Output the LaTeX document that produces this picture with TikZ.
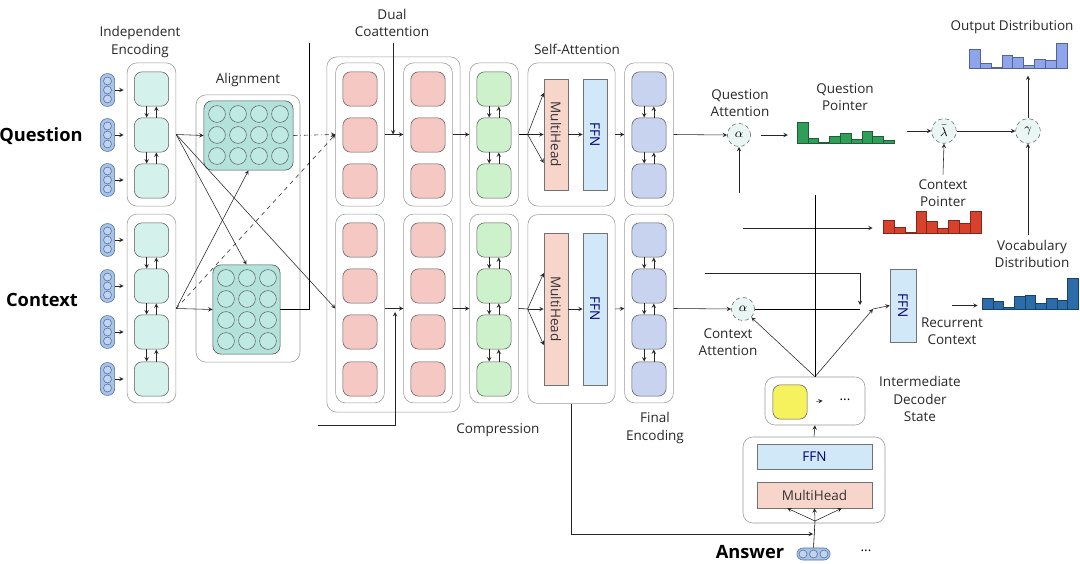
\documentclass[tikz,border=0pt]{standalone}
\usepackage{fontspec}
\setmainfont{Open Sans}
\usepackage{amsmath}
\usetikzlibrary{positioning,arrows.meta,calc}

\definecolor{encfill}{HTML}{D5F1EB}
\definecolor{gridfill}{HTML}{B2E2DA}
\definecolor{dotfill}{HTML}{BFE9E3}
\definecolor{coatfill}{HTML}{F6C8C4}
\definecolor{compfill}{HTML}{CDF2CB}
\definecolor{finfill}{HTML}{C7D3EF}
\definecolor{mhfill}{HTML}{F8D5CB}
\definecolor{ffnfill}{HTML}{D1E8F8}
\definecolor{yelfill}{HTML}{F5F25E}
\definecolor{vecfill}{HTML}{A9C3E7}
\definecolor{vecline}{HTML}{4F6FA5}
\definecolor{attfill}{HTML}{E9F6F4}
\definecolor{qgreen}{HTML}{2F9E58}
\definecolor{cred}{HTML}{D8422D}
\definecolor{vblue}{HTML}{2C6DA9}
\definecolor{oblue}{HTML}{8EA5EC}

\begin{document}
\begin{tikzpicture}[
    x=0.025cm, y=-0.025cm,
    >=stealth,
    font=\fontsize{9.6}{12.2}\selectfont,
    cellbox/.style={
        draw=black!65,
        thin,
        rounded corners=2mm,
        minimum width=0.86cm,
        minimum height=0.86cm,
        inner sep=0pt
    },
    colbox/.style={
        draw=black!40,
        rounded corners=2.5mm,
        minimum width=1.22cm,
        inner sep=0pt
    },
    qcol/.style={colbox, minimum height=3.58cm},
    ccol/.style={colbox, minimum height=4.72cm},
    algbox/.style={
        draw=black!70,
        fill=gridfill,
        rounded corners=2mm,
        inner sep=0pt
    },
    algdot/.style={draw=black!60, thin, fill=dotfill},
    wordvec/.style={
        draw=vecline,
        fill=vecfill,
        rounded corners=0.17cm,
        minimum width=0.36cm,
        minimum height=0.82cm,
        inner sep=0pt
    },
    vecdot/.style={draw=vecline, fill=vecfill!70},
    barbox/.style={draw=black!55, inner sep=0pt, text=black!80},
    attnode/.style={
        circle,
        draw=black!60,
        densely dashed,
        fill=attfill,
        minimum size=0.58cm,
        inner sep=0pt,
        font=\small
    },
    chart/.style={inner sep=0pt},
    lbl/.style={align=center, text=black!85},
    biglbl/.style={font=\fontsize{13}{15}\selectfont\bfseries},
    arr/.style={->, thin, black!85}
]

\useasboundingbox (0,0) rectangle (1080,564);

% side labels
\node[biglbl] (qlab) at (41,136) {Question};
\node[biglbl] (clab) at (42,300) {Context};
\node[biglbl] (alab) at (750,552) {Answer};

% outer boxes
\node[colbox, minimum width=2.6cm, minimum height=6.68cm] (aln) at (248,228.5) {};
\node[colbox, minimum width=3.33cm, minimum height=8.88cm] (coatt) at (393.5,234.5) {};

% columns of cells
\foreach \n/\cx/\clr in {enc/151.5/encfill, coa/360/coatfill, cob/428/coatfill, cmp/494/compfill, fin/649/finfill} {
    \node[qcol] (\n-q) at (\cx,134.5) {};
    \node[ccol] (\n-c) at (\cx,308.5) {};
    \foreach \y [count=\i] in {89,135,181}
        \node[cellbox, fill=\clr] (\n-q\i) at (\cx,\y) {};
    \foreach \y [count=\i] in {240,286,332,379}
        \node[cellbox, fill=\clr] (\n-c\i) at (\cx,\y) {};
}

\foreach \n in {enc,cmp,fin} {
    \foreach \i/\j in {1/2,2/3} {
        \draw[arr] ([xshift=-0.12cm]\n-q\i.south) -- ([xshift=-0.12cm]\n-q\j.north);
        \draw[arr] ([xshift=0.12cm]\n-q\j.north) -- ([xshift=0.12cm]\n-q\i.south);
    }
    \foreach \i/\j in {1/2,2/3,3/4} {
        \draw[arr] ([xshift=-0.12cm]\n-c\i.south) -- ([xshift=-0.12cm]\n-c\j.north);
        \draw[arr] ([xshift=0.12cm]\n-c\j.north) -- ([xshift=0.12cm]\n-c\i.south);
    }
}

% word vectors
\foreach \y [count=\i] in {90,135,180} {
    \node[wordvec] (qw\i) at (107.5,\y) {};
    \foreach \d in {-9,0,9}
        \draw[vecdot] (107.5,\y+\d) circle (0.1cm);
    \draw[arr, shorten >=0.08cm] (qw\i.east) -- (qw\i.east -| enc-q.west);
}
\foreach \y [count=\i] in {240,286,332,379} {
    \node[wordvec] (cw\i) at (107.5,\y) {};
    \foreach \d in {-9,0,9}
        \draw[vecdot] (107.5,\y+\d) circle (0.1cm);
    \draw[arr, shorten >=0.08cm] (cw\i.east) -- (cw\i.east -| enc-c.west);
}

% alignment
\node[algbox, minimum width=2.23cm, minimum height=1.73cm] (grdq) at (248.5,135.5) {};
\foreach \x in {217,238,259,280}
    \foreach \y in {114,135,156}
        \draw[algdot] (\x,\y) circle (0.21cm);
\node[algbox, minimum width=1.68cm, minimum height=2.23cm] (grdc) at (246.5,309.5) {};
\foreach \x in {226,247,268}
    \foreach \y in {278,299,320,341}
        \draw[algdot] (\x,\y) circle (0.21cm);

\coordinate (skipa) at (309,43);
\coordinate (skipb) at (393,43);
\coordinate (skipc) at (318,425);
\coordinate (skipd) at (395,312);

\draw[arr] (enc-q.east) -- (grdq.west);
\draw[arr] (enc-q.east) -- (grdc.north);
\draw[arr] (enc-q.east) -- (coa-c.west);
\draw[arr] (enc-c.east) -- (grdc.west);
\draw[arr] (enc-c.east) -- (grdq.south);
\draw[arr, dashed] (enc-c.east) -- (coa-q.west);
\draw[arr, dash dot] (grdq.east) -- (coa-q.west);
\draw (grdc.east) -| (skipa);
\draw[arr] (skipb) -- (skipb |- coa-q.east);
\draw[arr] (skipc) -| (skipd);
\draw[arr] (coa-q.east) -- (cob-q.west);
\draw[arr] (coa-c.east) -- (cob-c.west);
\draw[arr] (cob-q.east) -- (cmp-q.west);
\draw[arr] (cob-c.east) -- (cmp-c.west);

% self-attention
\node[qcol, minimum width=2.18cm] (sa-q) at (571.5,134.5) {};
\node[ccol, minimum width=2.18cm] (sa-c) at (571.5,309) {};
\node[barbox, fill=mhfill, minimum width=0.6cm, minimum height=2.78cm] (mhq) at (556,134.5) {\rotatebox{-90}{MultiHead}};
\node[barbox, fill=ffnfill, minimum width=0.6cm, minimum height=2.78cm, text=blue!45!black] (ffnq) at (595,134.5) {\rotatebox{-90}{FFN}};
\node[barbox, fill=mhfill, minimum width=0.6cm, minimum height=3.8cm] (mhc) at (556,309) {\rotatebox{-90}{MultiHead}};
\node[barbox, fill=ffnfill, minimum width=0.6cm, minimum height=3.8cm, text=blue!45!black] (ffnc) at (595,309) {\rotatebox{-90}{FFN}};

\draw (cmp-q.east) -- (sa-q.west);
\draw (cmp-c.east) -- (sa-c.west);
\foreach \s in {1.04cm,0cm,-0.71cm}
    \draw[arr] (sa-q.west) -- ([yshift=\s]mhq.west);
\foreach \s in {0.9cm,0cm,-0.9cm}
    \draw[arr] (sa-c.west) -- ([yshift=\s]mhc.west);
\draw[arr] (mhq) -- (ffnq);
\draw[arr] (mhc) -- (ffnc);
\draw[arr] (sa-q.east) -- (fin-q.west);
\draw[arr] (sa-c.east) -- (fin-c.west);

% stage labels
\node[lbl] (l-enc) at (140,42) {Independent\\Encoding};
\node[lbl] (l-aln) at (248,80) {Alignment};
\node[lbl] (l-coa) at (392,23) {Dual\\Coattention};
\node[lbl] (l-sa) at (577,49) {Self-Attention};
\node[lbl] (l-cmp) at (498,430) {Compression};
\node[lbl] (l-fin) at (655,428) {Final\\Encoding};

% decoder
\node[colbox, minimum width=3.55cm, minimum height=2.15cm] (dec) at (814,480) {};
\node[barbox, fill=ffnfill, minimum width=2.88cm, minimum height=0.63cm, text=blue!45!black] (dffn) at (814.5,456.5) {FFN};
\node[barbox, fill=mhfill, minimum width=2.88cm, minimum height=0.65cm] (dmh) at (814.5,495) {MultiHead};
\node[colbox, minimum width=2.5cm, minimum height=1.2cm] (dstate) at (815,401) {};
\node[cellbox, fill=yelfill] (ycell) at (790,402) {};
\node (sdots) at (845,400) {...};
\node[lbl] (l-dst) at (920,399) {Intermediate\\Decoder\\State};

\node[wordvec, minimum width=0.83cm, minimum height=0.3cm, rounded corners=0.15cm] (ans) at (813.5,554) {};
\foreach \x in {803,813.5,824}
    \draw[vecdot] (\x,554) circle (0.1cm);
\node (adots) at (866,551) {...};

\coordinate (fan) at (815,521);
\coordinate (join) at (813,534);
\draw (ans.north) -- (fan);
\foreach \s in {-0.68cm,0cm,0.68cm}
    \draw[arr] (fan) -- ([xshift=\s]dmh.south);
\draw[arr] (sa-c.south) |- (join);
\draw[arr] (dec.north) -- (dstate.south);
\draw[arr, shorten <=0.22cm, shorten >=0.3cm] (ycell.east) -- (sdots.west);

% attention and pointers
\node[attnode] (qatt) at (739,135) {$\alpha$};
\node[attnode] (catt) at (743,309) {$\alpha$};
\node[attnode, minimum size=0.62cm] (lam) at (944,131) {$\bar{\lambda}$};
\node[attnode, minimum size=0.62cm] (gam) at (1028,131) {$\gamma$};
\node[lbl] (l-qatt) at (740,103) {Question\\Attention};
\node[lbl] (l-catt) at (728,342) {Context\\Attention};
\node[lbl] (l-qptr) at (845,97) {Question\\Pointer};
\node[lbl] (l-cptr) at (943,193) {Context\\Pointer};
\node[lbl] (l-out) at (1012,27) {Output Distribution};
\node[lbl] (l-voc) at (1032,254) {Vocabulary\\Distribution};
\node[lbl] (l-rec) at (952,331) {Recurrent\\Context};

\node[chart, minimum width=2.43cm, minimum height=0.53cm] (qptr) at (845.5,132.5) {};
\foreach \h [count=\i from 0] in {1,.25,.05,.35,.45,.2,.55,.35,.15}
    \filldraw[fill=qgreen, draw=qgreen!60!black, very thin] (797+\i*10.8,143) rectangle ++(10.8,-21*\h);
\node[chart, minimum width=2.45cm, minimum height=0.55cm] (cptr) at (932,222) {};
\foreach \h [count=\i from 0] in {.6,.25,.05,1,.55,.2,.6,.45,1}
    \filldraw[fill=cred, draw=cred!60!black, very thin] (883+\i*10.9,233) rectangle ++(10.9,-22*\h);
\node[chart, minimum width=2.4cm, minimum height=0.78cm] (vocab) at (1030,293.5) {};
\foreach \h [count=\i from 0] in {.35,.25,.05,.4,.45,.2,.35,.3,1}
    \filldraw[fill=vblue, draw=vblue!60!black, very thin] (982+\i*10.7,309) rectangle ++(10.7,-31*\h);
\node[chart, minimum width=2.45cm, minimum height=0.63cm] (outd) at (1018,55.5) {};
\foreach \h [count=\i from 0] in {.75,.2,.05,.5,.45,.1,.35,.3,1}
    \filldraw[fill=oblue, draw=oblue!60!black, very thin] (969+\i*10.9,68) rectangle ++(10.9,-25*\h);

\node[barbox, fill=ffnfill, minimum width=0.65cm, minimum height=1.83cm, text=blue!45!black] (rffn) at (903,305.5) {\rotatebox{-90}{FFN}};

\coordinate (mix) at (873,309);
\coordinate (cdrop) at (860,305);
\coordinate (ctop) at (705,273);
\coordinate (cleft) at (743,228);
\coordinate (qbot) at (739,193);
\coordinate (vtop) at (815,195);

\draw[arr] (fin-q.east) -- (qatt.west);
\draw[arr] (fin-c.east) -- (catt.west);
\draw[arr, shorten <=0.25cm, shorten >=0.22cm] (qatt.east) -- (qptr.west |- qatt.east);
\draw[arr, shorten <=0.32cm] (qptr.east |- lam.west) -- (lam.west);
\draw[arr] (lam.east) -- (gam.west);
\draw[arr, shorten >=0.18cm] (gam.north) -- (gam.north |- outd.south);
\draw[arr] (l-cptr.north) -- (lam.south);
\draw[arr] (l-voc.north -| gam.south) -- (gam.south);
\draw[arr, shorten <=0.9cm, shorten >=0.1cm] (rffn.east) -- (rffn.east -| vocab.west);
\draw[arr] (qbot) -- (qatt.south);
\draw[arr, shorten >=0.25cm] (cleft) -- (cleft -| cptr.west);
\draw[arr] (ctop) -| (cdrop);
\draw (catt.east) -- (catt.east -| cdrop);
\draw[arr] (mix) -- (rffn.west);
\draw[arr] (dstate.north) -- (catt.south east);
\draw[arr] (dstate.north) -- (mix);
\draw (dstate.north) -- (vtop);

\end{tikzpicture}
\end{document}
